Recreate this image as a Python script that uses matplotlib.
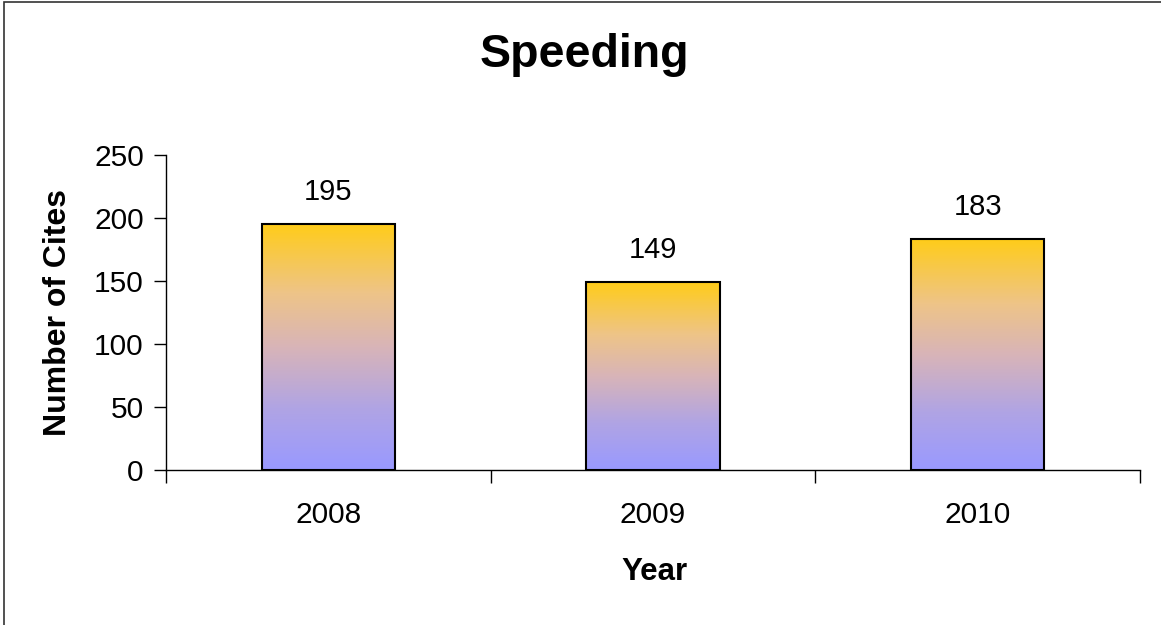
import matplotlib
matplotlib.use("Agg")
import matplotlib.pyplot as plt
import numpy as np
from matplotlib.colors import LinearSegmentedColormap
from matplotlib.patches import Rectangle

plt.rcParams['font.family'] = ['Liberation Sans', 'DejaVu Sans']

years = ["2008", "2009", "2010"]
cites = [195, 149, 183]
title = "Speeding"
xlabel = "Year"
ylabel = "Number of Cites"
yticks = [0, 50, 100, 150, 200, 250]

fig = plt.figure(figsize=(11.61, 6.25), dpi=100)
ax = fig.add_axes([166/1161, 1-470/625, (1140-166)/1161, (470-155)/625])

cmap = LinearSegmentedColormap.from_list(
    "grad", [(0.0, "#9999FF"), (0.25, "#B0A4E4"), (0.5, "#D8B4B8"),
             (0.72, "#EEC488"), (1.0, "#FFCC1A")])
grad = np.linspace(1, 0, 256).reshape(-1, 1)

x = np.arange(len(years))
width = 0.41
bars = ax.bar(x, cites, width=width, facecolor="none", edgecolor="black",
              linewidth=1.5, zorder=3)
for b in bars:
    x0 = b.get_x()
    h = b.get_height()
    ax.imshow(grad, extent=[x0, x0 + b.get_width(), 0, h], aspect="auto",
              cmap=cmap, vmin=0, vmax=1, zorder=2, interpolation="bilinear")
    ax.text(b.get_x() + b.get_width() / 2, h + 26, str(int(h)),
            ha="center", va="center", fontsize=21)

ax.set_xlim(-0.5, len(years) - 0.5)
ax.set_ylim(0, 250)
ax.set_yticks(yticks)
ax.set_yticklabels([str(t) for t in yticks], fontsize=21.5)
ax.set_xticks(x)
ax.set_xticklabels(years, fontsize=21.5)
ax.set_xticks(np.arange(-0.5, len(years)), minor=True)
ax.tick_params(axis="x", which="major", length=0, pad=22)
ax.tick_params(axis="x", which="minor", length=9, direction="out", width=1)
ax.tick_params(axis="y", length=9, direction="out", width=1, pad=7)

for s in ["top", "right"]:
    ax.spines[s].set_visible(False)
for s in ["left", "bottom"]:
    ax.spines[s].set_linewidth(1)

fig.text(654/1161, 1-572/625, xlabel, ha="center", va="center",
         fontsize=22.5, fontweight="bold")
fig.text(58/1161, 1-312/625, ylabel, ha="center", va="center",
         rotation=90, fontsize=23, fontweight="bold")
fig.text(584/1161, 1-67/625, title, ha="center", va="baseline",
         fontsize=33.5, fontweight="bold")

fig.patches.append(Rectangle((4/1161, -0.1), 1.2, 1 - 2/625 + 0.1,
                             transform=fig.transFigure, fill=False,
                             edgecolor="#333333", linewidth=1.2))

fig.savefig("out.png", dpi=100)
